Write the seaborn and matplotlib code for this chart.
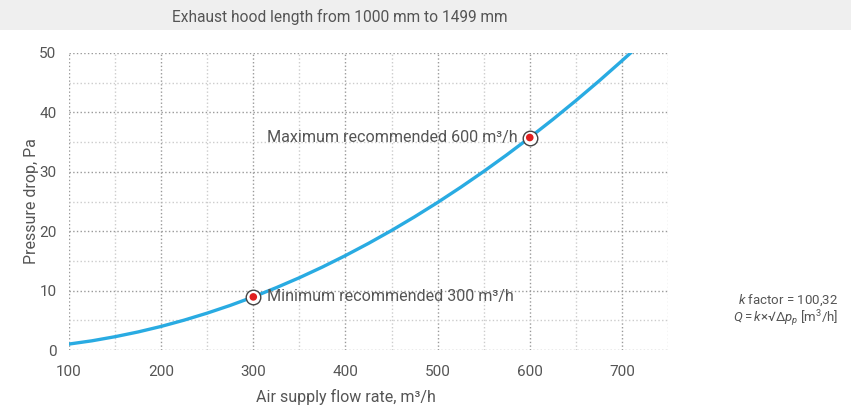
import matplotlib
matplotlib.use("Agg")
import matplotlib.pyplot as plt
import seaborn as sns
import pandas as pd
from matplotlib.patches import Rectangle

# values
flow = [100, 125, 150, 175, 200, 225, 250, 275, 300, 325, 350, 375, 400,
        425, 450, 475, 500, 525, 550, 575, 600, 625, 650, 675, 700, 710]
pressure = [1.0, 1.55, 2.24, 3.04, 3.97, 5.03, 6.21, 7.51, 8.94, 10.5, 12.17,
            13.97, 15.9, 17.95, 20.12, 22.42, 24.84, 27.39, 30.06, 32.85,
            35.77, 38.81, 41.98, 45.27, 48.69, 50.09]

point_flow = [300, 600]
point_pressure = [8.94, 35.77]
point_labels = ["Minimum recommended 300 m\u00b3/h", "Maximum recommended 600 m\u00b3/h"]

x_ticks = [100, 200, 300, 400, 500, 600, 700]
y_ticks = [0, 10, 20, 30, 40, 50]

sns.set_style("white")
plt.rcParams['font.family'] = ['Roboto', 'DejaVu Sans']
plt.rcParams['mathtext.fontset'] = 'custom'
plt.rcParams['mathtext.it'] = 'Roboto:italic'
plt.rcParams['mathtext.rm'] = 'Roboto'

text_col = '#555555'
line_col = '#29abe2'

fig = plt.figure(figsize=(8.51, 4.08), dpi=100)
fig.patches.append(Rectangle((0, 1 - 30 / 408), 1, 30 / 408, transform=fig.transFigure,
                             facecolor='#efefef', edgecolor='none', zorder=0))
fig.text(340 / 851, 1 - 17 / 408, "Exhaust hood length from 1000 mm to 1499 mm",
         ha='center', va='center', fontsize=11.2, color=text_col)

ax = fig.add_axes([69 / 851, 1 - 350 / 408, (668 - 69) / 851, (350 - 53) / 408])

curve = pd.DataFrame({'flow': flow, 'pressure': pressure})
sns.lineplot(data=curve, x='flow', y='pressure', ax=ax, color=line_col,
             linewidth=2.4, zorder=3)

pts = pd.DataFrame({'flow': point_flow, 'pressure': point_pressure})
sns.scatterplot(data=pts, x='flow', y='pressure', ax=ax, s=110, color='white',
                edgecolor='#444444', linewidth=1.0, zorder=4)
sns.scatterplot(data=pts, x='flow', y='pressure', ax=ax, s=30, color='#e01e1e',
                edgecolor='none', zorder=5)

ax.annotate(point_labels[0], (point_flow[0], point_pressure[0]), xytext=(10, 0),
            textcoords='offset points', ha='left', va='center', fontsize=11.6, color=text_col)
ax.annotate(point_labels[1], (point_flow[1], point_pressure[1]), xytext=(-9, 0),
            textcoords='offset points', ha='right', va='center', fontsize=11.6, color=text_col)

ax.set_xlim(100, 750)
ax.set_ylim(0, 50)
ax.set_xticks(x_ticks)
ax.set_yticks(y_ticks)
ax.set_xticks(range(150, 751, 100), minor=True)
ax.set_yticks(range(5, 50, 10), minor=True)
ax.grid(which='major', linestyle=':', color='#999999', linewidth=1.0)
ax.grid(which='minor', linestyle=':', color='#cccccc', linewidth=1.0)
for s in ax.spines.values():
    s.set_visible(False)
ax.tick_params(which='major', length=3, color='#999999', labelcolor=text_col,
               labelsize=11, pad=6)
ax.tick_params(which='minor', length=0)
ax.tick_params(axis='x', pad=8)

ax.set_xlabel("Air supply flow rate, m\u00b3/h", fontsize=11.5, color=text_col, labelpad=7)
ax.xaxis.label.set_x((400 - 100) / 650)
ax.set_ylabel("Pressure drop, Pa", fontsize=11.5, color=text_col, labelpad=0)

fig.text(838 / 851, 1 - 300 / 408, r"$k$ factor = 100,32", ha='right', va='center',
         fontsize=9.5, color=text_col)
fig.text(838 / 851, 1 - 319 / 408, "$Q = k{\\times}\u221a\\Delta p_p$ [m$^3$/h]",
         ha='right', va='center', fontsize=9.5, color=text_col)

fig.savefig("out.png", dpi=100)
